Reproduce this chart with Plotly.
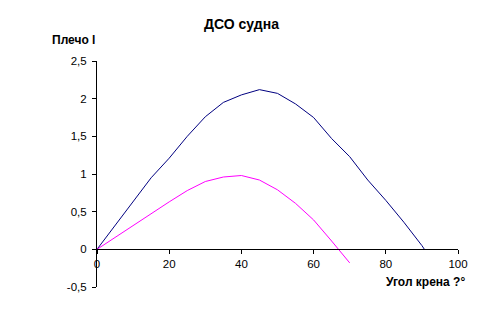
import plotly.graph_objects as go

# Data
angles_blue = [0, 5, 10, 15, 20, 25, 30, 35, 40, 45, 50, 55, 60, 65, 70, 75, 80, 85, 90, 90.7]
lever_blue = [0, 0.32, 0.64, 0.95, 1.21, 1.50, 1.76, 1.95, 2.05, 2.12, 2.07, 1.93, 1.75, 1.47, 1.23, 0.92, 0.65, 0.36, 0.05, 0.0]

angles_mag = [0, 5, 10, 15, 20, 25, 30, 35, 40, 45, 50, 55, 60, 65, 70]
lever_mag = [0, 0.16, 0.32, 0.48, 0.63, 0.78, 0.90, 0.96, 0.98, 0.92, 0.79, 0.61, 0.39, 0.11, -0.18]

x_ticks = [0, 20, 40, 60, 80, 100]
y_ticks = [-0.5, 0, 0.5, 1, 1.5, 2, 2.5]
y_ticktext = ["-0,5", "0", "0,5", "1", "1,5", "2", "2,5"]

title_text = "ДСО судна"
ytitle = "Плечо l"
xtitle = "Угол крена ?°"

font_family = "Liberation Sans, Arial, sans-serif"

fig = go.Figure()
fig.add_trace(go.Scatter(x=angles_blue, y=lever_blue, mode="lines",
                         line=dict(color="#000080", width=1), showlegend=False))
fig.add_trace(go.Scatter(x=angles_mag, y=lever_mag, mode="lines",
                         line=dict(color="#FF00FF", width=1), showlegend=False))

ymin, ymax = -0.5, 2.5
fig.update_layout(
    width=483, height=330,
    margin=dict(l=97, r=25, t=61, b=43),
    paper_bgcolor="white", plot_bgcolor="white",
    font=dict(family=font_family, size=11, color="black"),
    title=dict(text=f"<b>{title_text}</b>", x=0.5, xanchor="center",
               y=1 - 24 / 330, yanchor="middle",
               font=dict(size=14, family=font_family, color="black")),
    xaxis=dict(range=[0, 100], tickvals=x_ticks, showgrid=False, zeroline=False,
               showline=True, linecolor="black", linewidth=1,
               ticks="outside", ticklen=4, tickcolor="black",
               anchor="free", position=(0 - ymin) / (ymax - ymin),
               tickfont=dict(size=11.5)),
    yaxis=dict(range=[ymin, ymax], tickvals=y_ticks, ticktext=y_ticktext,
               showgrid=False, zeroline=False,
               showline=True, linecolor="black", linewidth=1,
               ticks="outside", ticklen=4, tickcolor="black",
               ticklabelstandoff=3,
               tickfont=dict(size=11.5)),
    annotations=[
        dict(text=f"<b>{ytitle}</b>", xref="paper", yref="paper",
             x=0, y=1 + 21 / 226, xanchor="right", yanchor="middle",
             showarrow=False, font=dict(size=12)),
        dict(text=f"<b>{xtitle}</b>", xref="paper", yref="paper",
             x=(467 - 97) / 361, y=(287 - 282) / 226, xanchor="right", yanchor="middle",
             showarrow=False, font=dict(size=12)),
    ],
)

fig.write_html("out.html")
